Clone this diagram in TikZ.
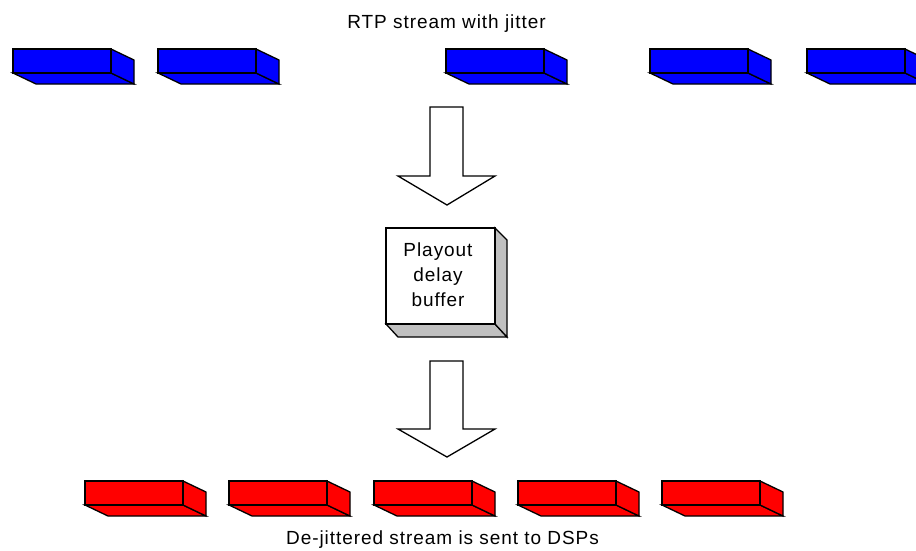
\documentclass[tikz,border=0pt]{standalone}
\usepackage{fontspec}
\setmainfont{Liberation Sans}[LetterSpace=5]
\begin{document}
\begin{tikzpicture}[x=1pt,y=-1pt,
  edge/.style={draw=black,line width=1.3pt,line join=miter},
  lbl/.style={font=\fontsize{19}{25}\selectfont,inner sep=0pt},
  pics/pkt/.style={code={
    \filldraw[edge,fill=#1] (0,24) -- (98,24) -- (121,35) -- (23,35) -- cycle;
    \filldraw[edge,fill=#1] (98,0) -- (121,11) -- (121,35) -- (98,24) -- cycle;
    \filldraw[edge,fill=#1] (0,0) rectangle (98,24);
  }},
  bigarrow/.style={edge,fill=white}]
\useasboundingbox (0,0) rectangle (916,550);
\definecolor{pblue}{RGB}{0,0,255}
\definecolor{pred}{RGB}{255,0,0}
\definecolor{pgray}{RGB}{192,192,192}

% title
\node[lbl,anchor=base] (top) at (446.5,28) {RTP stream with jitter};

% jittered blue packets
\foreach \x/\n in {13/b1,158/b2,446/b3,650/b4,807/b5}
  \pic (\n) at (\x,49) {pkt=pblue};

% arrow 1
\draw[bigarrow] (430,107) -- (463,107) -- (463,176) -- (495,176) -- (447,205) -- (398,176) -- (430,176) -- cycle;

% playout buffer
\filldraw[edge,fill=pgray] (386,324) -- (495,324) -- (507,337) -- (398,337) -- cycle;
\filldraw[edge,fill=pgray] (495,228) -- (507,240) -- (507,337) -- (495,324) -- cycle;
\node[edge,fill=white,minimum width=109pt,minimum height=96pt,inner sep=0pt] (buf) at (440.5,276) {};
\node[lbl,align=center] (buftext) at (438,275) {Playout\\delay\\buffer};

% arrow 2
\draw[bigarrow] (430,361) -- (463,361) -- (463,429) -- (495,429) -- (447,457) -- (398,429) -- (430,429) -- cycle;

% de-jittered red packets
\foreach \x/\n in {85/r1,229/r2,374/r3,518/r4,662/r5}
  \pic (\n) at (\x,481) {pkt=pred};

\node[lbl,anchor=base] (bottom) at (442.5,544) {De-jittered stream is sent to DSPs};
\end{tikzpicture}
\end{document}
